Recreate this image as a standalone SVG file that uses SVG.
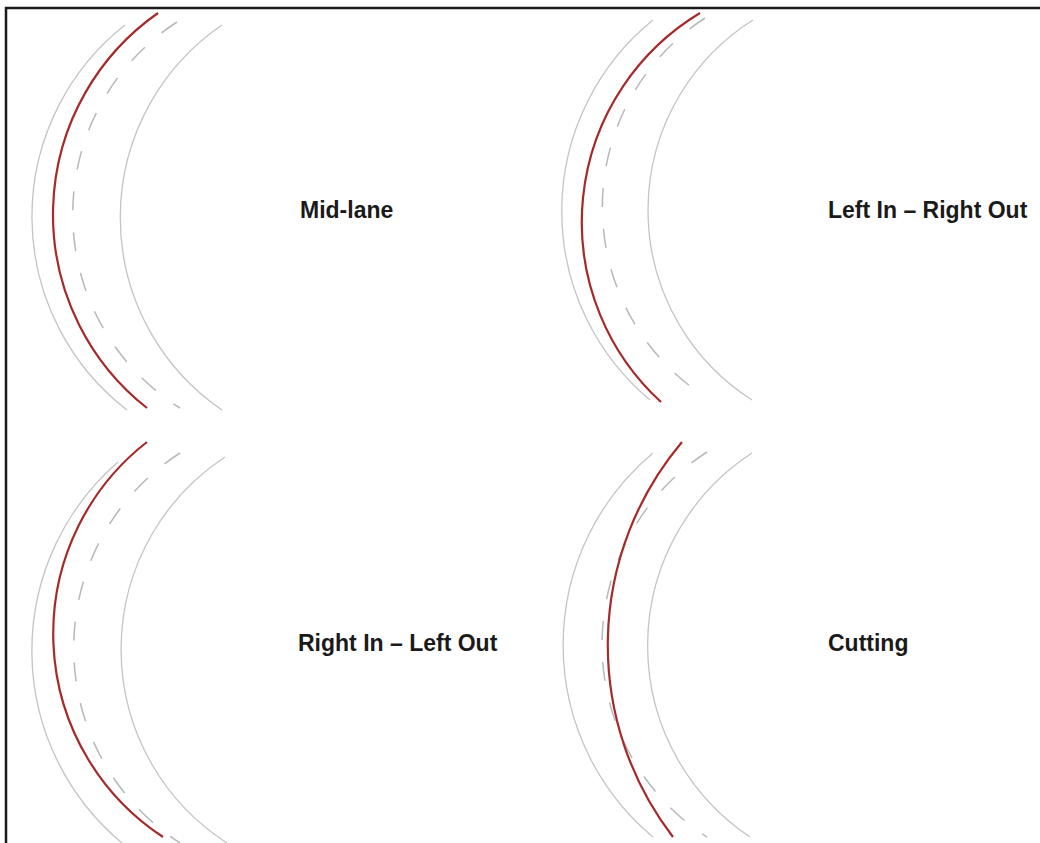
<svg xmlns="http://www.w3.org/2000/svg" width="1040" height="843" viewBox="0 0 1040 843">
<style>
.edge{fill:none;stroke:#c4c4c8;stroke-width:1.3}
.dash{fill:none;stroke:#b8b8bc;stroke-width:1.5;stroke-dasharray:19 22}
.path{fill:none;stroke:#a52a2a;stroke-width:2.2}
.lbl{font-family:"Liberation Sans",Arial,sans-serif;font-weight:bold;font-size:23px;fill:#1a1a1a}
</style>
<rect x="0" y="0" width="1040" height="843" fill="#ffffff"/>
<path d="M6 844 V8 H1041" fill="none" stroke="#1a1a1a" stroke-width="2.5"/>
<g id="panel-midlane">
<path class="edge" d="M125 25 A244 244 0 0 0 127 410"/>
<path class="dash" d="M177 22 A229 229 0 0 0 180 408"/>
<path class="edge" d="M222 25 A233 233 0 0 0 222 410"/>
<path class="path" d="M158 13 A246 246 0 0 0 147 408"/>
<text class="lbl" x="300" y="218">Mid-lane</text>
</g>
<g id="panel-left-in-right-out">
<path class="edge" d="M653 20 A246 246 0 0 0 650 400"/>
<path class="dash" d="M705 18 A226 226 0 0 0 707 398"/>
<path class="edge" d="M753 20 A225 225 0 0 0 752 400"/>
<path class="path" d="M700 13 A244 244 0 0 0 661 402"/>
<text class="lbl" x="828" y="218">Left In – Right Out</text>
</g>
<g id="panel-right-in-left-out">
<path class="edge" d="M118 462 A250 250 0 0 0 122 843"/>
<path class="dash" d="M180 453 A232 232 0 0 0 180 843"/>
<path class="edge" d="M225 457 A230 230 0 0 0 227 843"/>
<path class="path" d="M147 442 A243 243 0 0 0 163 837"/>
<text class="lbl" x="298" y="651">Right In – Left Out</text>
</g>
<g id="panel-cutting">
<path class="edge" d="M653 453 A250 250 0 0 0 653 837"/>
<path class="dash" d="M707 452 A229 229 0 0 0 707 837"/>
<path class="edge" d="M752 453 A230 230 0 0 0 750 837"/>
<path class="path" d="M682 442 A315 315 0 0 0 673 837"/>
<text class="lbl" x="828" y="651">Cutting</text>
</g>
<g id="connectors"/>
</svg>
